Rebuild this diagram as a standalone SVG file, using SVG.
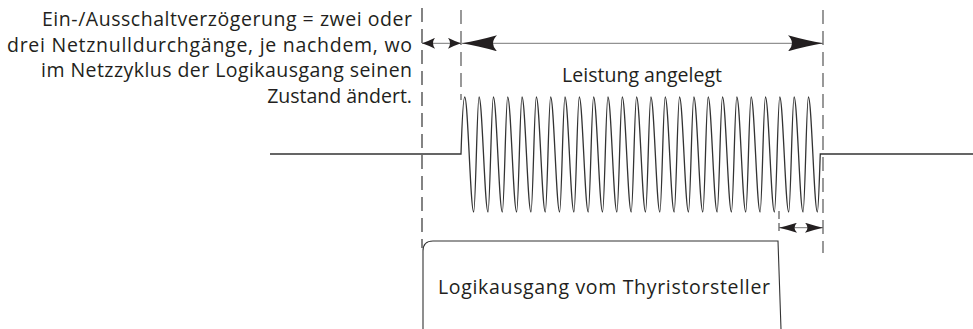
<svg xmlns="http://www.w3.org/2000/svg" width="973" height="329" viewBox="0 0 973 329">
<style>
.txt{font-family:"Open Sans","Liberation Sans",sans-serif;font-size:19.5px;fill:#231f20}
.dash{fill:none;stroke:#555;stroke-width:1.2;stroke-dasharray:14,7}
.dim{fill:none;stroke:#777;stroke-width:1}
.wave{fill:none;stroke:#333;stroke-width:1.3}
.box{fill:none;stroke:#333;stroke-width:1.1}
.head{fill:#231f20}
</style>
<defs>
<marker id="ah-s" viewBox="0 0 13 11" refX="13" refY="5.5" markerWidth="13" markerHeight="11" markerUnits="userSpaceOnUse" orient="auto-start-reverse"><path class="head" d="M0,0 Q7,3.5 13,5.5 Q7,7.5 0,11 Q4,5.5 0,0Z"/></marker>
<marker id="ah-m" viewBox="0 0 18 10" refX="18" refY="5" markerWidth="18" markerHeight="10" markerUnits="userSpaceOnUse" orient="auto-start-reverse"><path class="head" d="M0,0 Q10,3.2 18,5 Q10,6.8 0,10 Q5,5 0,0Z"/></marker>
<marker id="ah-l" viewBox="0 0 35 16" refX="35" refY="8" markerWidth="35" markerHeight="16" markerUnits="userSpaceOnUse" orient="auto-start-reverse"><path class="head" d="M0,0 Q19,5.3 35,8 Q19,10.7 0,16 Q8,8 0,0Z"/></marker>
</defs>
<g id="signal">
<path class="wave" d="M270,154H461c0.8,-25 2,-57 3.7,-57c3.24,0 5.76,115 9,115c1.92,0 3.4,-115 5.32,-115c3.24,0 5.76,115 9,115c1.92,0 3.4,-115 5.32,-115c3.24,0 5.76,115 9,115c1.92,0 3.4,-115 5.32,-115c3.24,0 5.76,115 9,115c1.92,0 3.4,-115 5.32,-115c3.24,0 5.76,115 9,115c1.92,0 3.4,-115 5.32,-115c3.24,0 5.76,115 9,115c1.92,0 3.4,-115 5.32,-115c3.24,0 5.76,115 9,115c1.92,0 3.4,-115 5.32,-115c3.24,0 5.76,115 9,115c1.92,0 3.4,-115 5.32,-115c3.24,0 5.76,115 9,115c1.92,0 3.4,-115 5.32,-115c3.24,0 5.76,115 9,115c1.92,0 3.4,-115 5.32,-115c3.24,0 5.76,115 9,115c1.92,0 3.4,-115 5.32,-115c3.24,0 5.76,115 9,115c1.92,0 3.4,-115 5.32,-115c3.24,0 5.76,115 9,115c1.92,0 3.4,-115 5.32,-115c3.24,0 5.76,115 9,115c1.92,0 3.4,-115 5.32,-115c3.24,0 5.76,115 9,115c1.92,0 3.4,-115 5.32,-115c3.24,0 5.76,115 9,115c1.92,0 3.4,-115 5.32,-115c3.24,0 5.76,115 9,115c1.92,0 3.4,-115 5.32,-115c3.24,0 5.76,115 9,115c1.92,0 3.4,-115 5.32,-115c3.24,0 5.76,115 9,115c1.92,0 3.4,-115 5.32,-115c3.24,0 5.76,115 9,115c1.92,0 3.4,-115 5.32,-115c3.24,0 5.76,115 9,115c1.92,0 3.4,-115 5.32,-115c3.24,0 5.76,115 9,115c1.92,0 3.4,-115 5.32,-115c3.24,0 5.76,115 9,115c1.92,0 3.4,-115 5.32,-115c3.24,0 5.76,115 9,115c1.92,0 3.4,-115 5.32,-115c3.24,0 5.76,115 9,115c1.1,0 2.2,-40 2.9,-58H973"/>
<text class="txt" x="642" y="82" text-anchor="middle" textLength="160" lengthAdjust="spacing">Leistung angelegt</text>
</g>
<g id="logic-output">
<path class="box" d="M423,329V251Q423,241 433,241H778L781,329"/>
<text class="txt" x="604" y="294" text-anchor="middle" textLength="332" lengthAdjust="spacing">Logikausgang vom Thyristorsteller</text>
</g>
<g id="note">
<text class="txt" x="412" y="26" text-anchor="end" textLength="370" lengthAdjust="spacing">Ein-/Ausschaltverzögerung = zwei oder</text>
<text class="txt" x="412" y="51.5" text-anchor="end" textLength="405" lengthAdjust="spacing">drei Netznulldurchgänge, je nachdem, wo</text>
<text class="txt" x="412" y="77" text-anchor="end" textLength="371" lengthAdjust="spacing">im Netzzyklus der Logikausgang seinen</text>
<text class="txt" x="412" y="103" text-anchor="end">Zustand ändert.</text>
</g>
<g id="connectors">
<line class="dash" x1="422" y1="8" x2="422" y2="248" style="stroke:#333"/>
<line class="dash" x1="461" y1="10" x2="461" y2="100"/>
<line class="dash" x1="823" y1="10" x2="823" y2="253"/>
<line class="dash" x1="779" y1="211" x2="779" y2="232" style="stroke-dasharray:8,4"/>
<line class="dim" x1="422" y1="43.3" x2="461" y2="43.3" marker-start="url(#ah-s)" marker-end="url(#ah-s)"/>
<line class="dim" x1="462" y1="43.3" x2="823" y2="43.3" marker-start="url(#ah-l)" marker-end="url(#ah-l)"/>
<line class="dim" x1="779" y1="227.7" x2="823" y2="227.7" marker-start="url(#ah-m)" marker-end="url(#ah-m)"/>
</g>
</svg>
